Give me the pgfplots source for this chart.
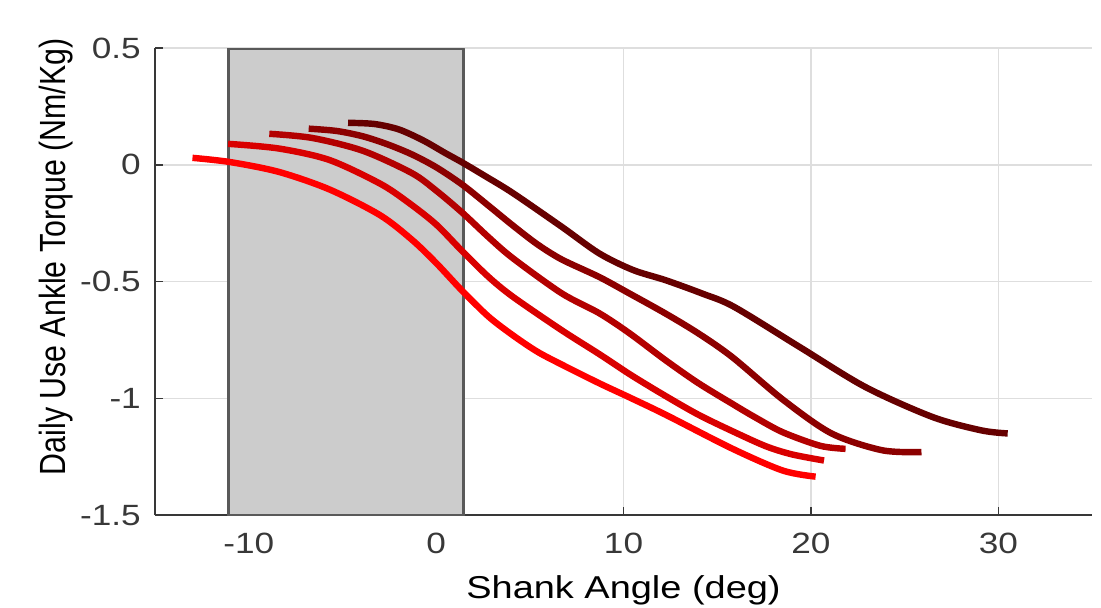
\documentclass[border=0pt]{standalone}
\usepackage{fontspec}
\setmainfont[FakeStretch=1.2]{Liberation Sans}
\newfontfamily\plainfont{Liberation Sans}
\usepackage{graphicx}
\usepackage{pgfplots}
\pgfplotsset{compat=1.18}
\definecolor{cA}{HTML}{FF0000}
\definecolor{cB}{HTML}{D90000}
\definecolor{cC}{HTML}{B30000}
\definecolor{cD}{HTML}{8C0000}
\definecolor{cE}{HTML}{660000}
\definecolor{txt}{HTML}{383838}
\begin{document}
\begin{tikzpicture}
\begin{axis}[
  scale only axis, width=364.5pt, height=181.7pt,
  xmin=-15, xmax=35, ymin=-1.5, ymax=0.5,
  xtick={-10,0,10,20,30}, xticklabels={-10,0,10,20,30},
  ytick={-1.5,-1,-0.5,0,0.5}, yticklabels={-1.5,-1,-0.5,0,0.5},
  axis x line*=bottom, axis y line*=left,
  axis line style={-, txt, line width=0.8pt},
  tick style={txt, line width=0.6pt}, major tick length=3pt, tick align=inside,
  grid=major, grid style={black!13, line width=0.6pt},
  ticklabel style={font=\fontsize{11.4}{13}\selectfont, text=txt},
  yticklabel style={xshift=-2pt},
  xticklabel style={yshift=-3.5pt},
  xlabel={\fontsize{12.3}{14}\selectfont Shank Angle (deg)},
  ylabel={\plainfont\fontsize{11.8}{14}\selectfont\scalebox{1}[1.2]{Daily Use Ankle Torque (Nm/Kg)}},
  label style={text=txt},
  every axis x label/.style={at={(axis description cs:0.5,-0.16)}, anchor=center},
  every axis y label/.style={at={(axis description cs:-0.106,0.553)}, rotate=90, anchor=center},
  every axis plot/.append style={line width=2.5pt, smooth, tension=0.5, line join=round},
]
\addplot[fill=black!20, draw=black!65, line width=1.2pt, sharp plot] coordinates {(-11.1,-1.5) (-11.1,0.5) (1.45,0.5) (1.45,-1.5)} -- cycle;
\addplot[cA] coordinates {(-13.0,0.03) (-11.0,0.012) (-8.4,-0.03) (-5.7,-0.105) (-3.0,-0.215) (-1.3,-0.32) (0.0,-0.42) (1.4,-0.54) (2.8,-0.65) (4.1,-0.73) (5.4,-0.8) (6.7,-0.855) (8.7,-0.935) (10.3,-0.995) (12.25,-1.07) (15.8,-1.215) (18.5,-1.309) (20.25,-1.335)};
\addplot[cB] coordinates {(-11.1,0.09) (-8.4,0.07) (-5.7,0.021) (-3.0,-0.08) (-1.5,-0.16) (0.0,-0.255) (1.4,-0.37) (2.8,-0.48) (4.1,-0.565) (6.7,-0.708) (8.7,-0.81) (10.4,-0.9) (12.25,-0.99) (14.0,-1.07) (15.8,-1.14) (17.6,-1.205) (19.0,-1.24) (20.7,-1.266)};
\addplot[cC] coordinates {(-8.9,0.133) (-6.6,0.115) (-3.9,0.06) (-1.3,-0.035) (0.0,-0.11) (1.4,-0.205) (2.8,-0.31) (4.1,-0.4) (6.7,-0.55) (8.7,-0.635) (10.3,-0.72) (12.25,-0.837) (14.0,-0.935) (15.8,-1.023) (17.0,-1.08) (18.5,-1.145) (20.5,-1.203) (21.85,-1.216)};
\addplot[cD] coordinates {(-6.8,0.155) (-5.3,0.145) (-3.9,0.122) (-2.6,0.088) (-1.3,0.045) (0.0,-0.01) (1.4,-0.085) (2.8,-0.175) (4.1,-0.26) (5.4,-0.34) (6.7,-0.405) (8.7,-0.48) (10.3,-0.55) (12.25,-0.637) (14.0,-0.722) (15.8,-0.823) (18.5,-1.005) (21.1,-1.15) (23.8,-1.222) (25.9,-1.23)};
\addplot[cE] coordinates {(-4.7,0.18) (-3.3,0.175) (-2.0,0.152) (-0.7,0.105) (0.5,0.05) (1.4,0.01) (2.7,-0.052) (4.1,-0.121) (6.7,-0.265) (8.7,-0.379) (10.5,-0.45) (12.25,-0.494) (14.2,-0.551) (15.9,-0.608) (19.4,-0.78) (22.9,-0.951) (26.5,-1.08) (29.1,-1.137) (30.5,-1.15)};
\end{axis}
\pgfresetboundingbox
\path ([shift={(-60.3pt,-35.8pt)}]current axis.south west) rectangle ([shift={(3.5pt,18.7pt)}]current axis.north east);
\end{tikzpicture}
\end{document}
